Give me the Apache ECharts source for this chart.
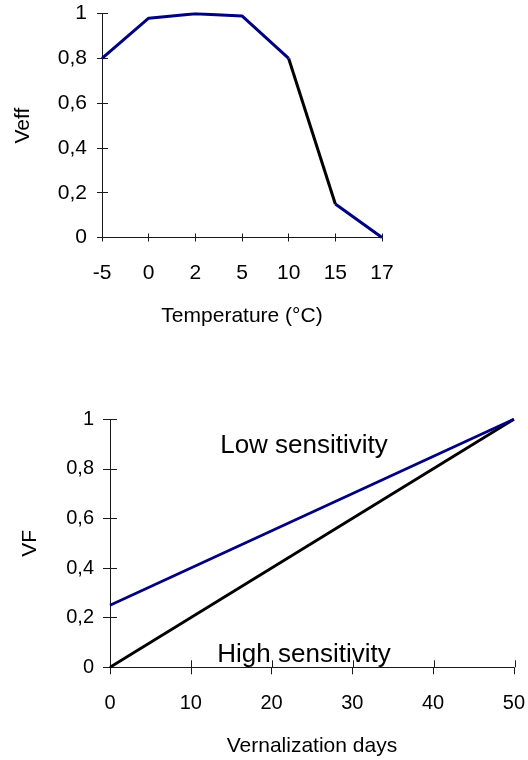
<!DOCTYPE html>
<html>
<head>
<meta charset="utf-8">
<style>
html,body{margin:0;padding:0;background:#fff;}
#c{width:528px;height:760px;}
</style>
<script src="https://cdn.jsdelivr.net/npm/echarts@6/dist/echarts.min.js"></script>
</head>
<body>
<div id="c"></div>
<script>
// ---- data ----
const temperatures = ['-5', '0', '2', '5', '10', '15', '17'];
const veff = [0.8, 0.98, 1, 0.99, 0.8, 0.15, 0];
const steepSegment = [4, 5]; // indices of the black segment (10 -> 15 °C)
const vernDays = [0, 50];
const lowSensitivity = [0.25, 1];
const highSensitivity = [0, 1];
const yTicks = [0, 0.2, 0.4, 0.6, 0.8, 1];

const FONT = '"Liberation Sans", Arial, sans-serif';
const NAVY = '#000080';
const AX = '#1a1a1a';
const fmtComma = v => String(Math.round(v * 10) / 10).replace('.', ',');

const chart = echarts.init(document.getElementById('c'), null, {renderer: 'canvas'});

const gridTop = {left: 102, right: 146, top: 13.7, bottom: 522.5};
const gridBot = {left: 110, right: 12.5, top: 419.3, bottom: 92.7};

const lineSeg = (arr, from, to) => arr.map((v, i) => (i >= from && i <= to) ? v : null);

const option = {
  backgroundColor: '#fff',
  animation: false,
  grid: [
    Object.assign({}, gridTop),
    Object.assign({}, gridBot),
    Object.assign({}, gridTop),
    Object.assign({}, gridBot)
  ],
  xAxis: [
    {
      gridIndex: 0, type: 'category', data: temperatures, boundaryGap: false,
      axisLine: {lineStyle: {color: AX, width: 1}},
      axisTick: {show: true, length: 4, lineStyle: {color: AX}},
      axisLabel: {fontSize: 21, fontFamily: FONT, color: '#000', margin: 25},
      splitLine: {show: false},
      name: 'Temperature (°C)', nameLocation: 'middle', nameGap: 68,
      nameTextStyle: {fontSize: 21, fontFamily: FONT, color: '#000'}
    },
    {
      gridIndex: 1, type: 'value', min: 0, max: 50, interval: 10,
      axisLine: {show: true, onZero: false, lineStyle: {color: AX, width: 1}},
      axisTick: {show: true, length: 7, lineStyle: {color: AX}},
      axisLabel: {fontSize: 20, fontFamily: FONT, color: '#000', margin: 26},
      splitLine: {show: false},
      name: 'Vernalization days', nameLocation: 'middle', nameGap: 68,
      nameTextStyle: {fontSize: 21, fontFamily: FONT, color: '#000'}
    },
    {
      gridIndex: 2, type: 'category', data: temperatures, boundaryGap: false,
      axisLine: {show: false},
      axisTick: {show: true, inside: true, length: 4, lineStyle: {color: AX}},
      axisLabel: {show: false}, splitLine: {show: false}
    },
    {
      gridIndex: 3, type: 'value', min: 0, max: 50, interval: 10,
      axisLine: {show: false},
      axisTick: {show: true, inside: true, length: 7, lineStyle: {color: AX}},
      axisLabel: {show: false}, splitLine: {show: false}
    }
  ],
  yAxis: [
    {
      gridIndex: 0, type: 'value', min: yTicks[0], max: yTicks[yTicks.length - 1], interval: 0.2,
      axisLine: {show: true, lineStyle: {color: AX, width: 1}},
      axisTick: {show: true, length: 5, lineStyle: {color: AX}},
      axisLabel: {fontSize: 21, fontFamily: FONT, color: '#000', margin: 15, formatter: fmtComma},
      splitLine: {show: false},
      name: 'Veff', nameLocation: 'middle', nameGap: 68, nameRotate: 90,
      nameTextStyle: {fontSize: 21, fontFamily: FONT, color: '#000'}
    },
    {
      gridIndex: 1, type: 'value', min: yTicks[0], max: yTicks[yTicks.length - 1], interval: 0.2,
      axisLine: {show: true, lineStyle: {color: AX, width: 1}},
      axisTick: {show: true, length: 7, lineStyle: {color: AX}},
      axisLabel: {fontSize: 20, fontFamily: FONT, color: '#000', margin: 16, formatter: fmtComma},
      splitLine: {show: false},
      name: 'VF', nameLocation: 'middle', nameGap: 69, nameRotate: 90,
      nameTextStyle: {fontSize: 21, fontFamily: FONT, color: '#000'}
    },
    {
      gridIndex: 2, type: 'value', min: 0, max: 1, interval: 0.2,
      axisLine: {show: false},
      axisTick: {show: true, inside: true, length: 6, lineStyle: {color: AX}},
      axisLabel: {show: false}, splitLine: {show: false}
    },
    {
      gridIndex: 3, type: 'value', min: 0, max: 1, interval: 0.2,
      axisLine: {show: false},
      axisTick: {show: true, inside: true, length: 7, lineStyle: {color: AX}},
      axisLabel: {show: false}, splitLine: {show: false}
    }
  ],
  series: [
    {
      type: 'line', xAxisIndex: 0, yAxisIndex: 0, data: lineSeg(veff, 0, steepSegment[0]),
      symbol: 'none', lineStyle: {color: NAVY, width: 3}, z: 3
    },
    {
      type: 'line', xAxisIndex: 0, yAxisIndex: 0, data: lineSeg(veff, steepSegment[0], steepSegment[1]),
      symbol: 'none', lineStyle: {color: '#000', width: 3}, z: 3
    },
    {
      type: 'line', xAxisIndex: 0, yAxisIndex: 0, data: lineSeg(veff, steepSegment[1], veff.length - 1),
      symbol: 'none', lineStyle: {color: NAVY, width: 3}, z: 3
    },
    {
      type: 'line', xAxisIndex: 1, yAxisIndex: 1,
      data: vernDays.map((d, i) => [d, highSensitivity[i]]),
      symbol: 'none', lineStyle: {color: '#000', width: 2.8}, z: 3
    },
    {
      type: 'line', xAxisIndex: 1, yAxisIndex: 1,
      data: vernDays.map((d, i) => [d, lowSensitivity[i]]),
      symbol: 'none', lineStyle: {color: NAVY, width: 2.8}, z: 4
    }
  ],
  graphic: [
    {type: 'text', x: 304, y: 446, z: 10,
     style: {text: 'Low sensitivity', fontSize: 26, fontFamily: FONT, fill: '#000', align: 'center', verticalAlign: 'middle'}},
    {type: 'text', x: 304, y: 655, z: 10,
     style: {text: 'High sensitivity', fontSize: 26, fontFamily: FONT, fill: '#000', align: 'center', verticalAlign: 'middle'}}
  ]
};
chart.setOption(option);
</script>
</body>
</html>
